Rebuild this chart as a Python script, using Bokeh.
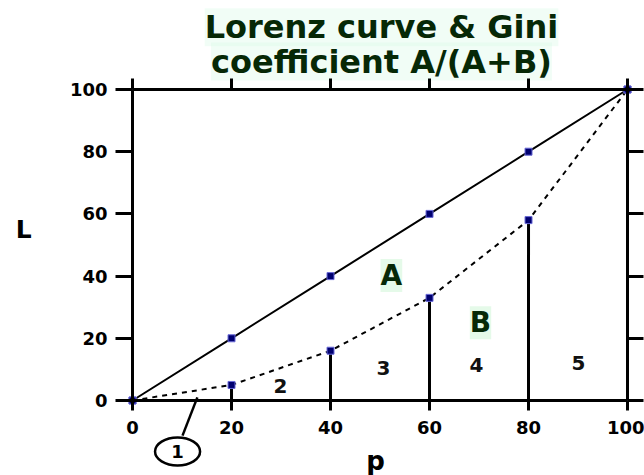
from bokeh.plotting import figure
from bokeh.models import Range1d, LinearAxis, FixedTicker
from bokeh.core.properties import value
from bokeh.embed import file_html
from bokeh.resources import INLINE

# ---- data ----
p_share = [0, 20, 40, 60, 80, 100]
equality = [0, 20, 40, 60, 80, 100]
lorenz = [0, 5, 16, 33, 58, 100]
ticks = [0, 20, 40, 60, 80, 100]
title_lines = ["Lorenz curve & Gini", "coefficient A/(A+B)"]
area_labels = ["A", "B"]
area_x = [52.3, 70.3]
area_y = [40.2, 25.0]
seg_labels = ["2", "3", "4", "5"]
seg_x = [29.9, 50.7, 69.5, 90.1]
seg_y = [4.8, 10.6, 11.3, 12.2]
circ_label = ["1"]
circ_x = [9.1]
circ_y = [-16.4]

FONT = value("DejaVu Sans")

W, H = 644, 475
p = figure(width=W, height=H, output_backend="svg", toolbar_location=None,
           x_range=Range1d(-26.67, 103.43), y_range=Range1d(-24.12, 128.62),
           x_axis_type=None, y_axis_type=None,
           min_border=0, min_border_left=0, min_border_right=0,
           min_border_top=0, min_border_bottom=0)
p.outline_line_color = None
p.background_fill_color = "white"
p.border_fill_color = "white"

def mk_axis(loc, fixed, labels=True, tick_out=12, standoff=8):
    ax = LinearAxis(ticker=FixedTicker(ticks=ticks), fixed_location=fixed,
                    bounds=(0, 100))
    ax.axis_line_width = 3
    ax.axis_line_color = "black"
    ax.major_tick_line_width = 3
    ax.major_tick_out = tick_out
    ax.major_tick_in = 0
    ax.minor_tick_out = 0
    ax.minor_tick_in = 0
    if labels:
        ax.major_label_text_font = "DejaVu Sans"
        ax.major_label_text_font_style = "bold"
        ax.major_label_text_font_size = "18px"
        ax.major_label_text_color = "black"
        ax.major_label_standoff = standoff
    else:
        ax.major_label_text_alpha = 0
        ax.major_label_text_font_size = "1px"
    p.add_layout(ax, loc)
    return ax

mk_axis("left", 0, True, 17, 8)
mk_axis("below", 0, True, 10, 11)
mk_axis("above", 100, False, 11)
mk_axis("right", 100, False, 16)

# equality line
p.line(p_share, equality, line_color="black", line_width=2)
# Lorenz curve
p.line(p_share, lorenz, line_color="black", line_width=2, line_dash="5 5")
# vertical strips
p.segment(x0=p_share[1:5], y0=[0] * 4, x1=p_share[1:5], y1=lorenz[1:5],
          line_color="black", line_width=3)
# markers
p.scatter(p_share, equality, marker="square", size=7,
          fill_color="#000070", line_color="#6a6ad8", line_width=1)
p.scatter(p_share, lorenz, marker="square", size=7,
          fill_color="#000070", line_color="#6a6ad8", line_width=1)

# leader line and ellipse for area 1
p.segment(x0=[10.1], y0=[-11.3], x1=[13.1], y1=[1.0],
          line_color="black", line_width=2.5)
p.ellipse(x=circ_x, y=circ_y, width=9.1, height=9.0,
          fill_color="white", line_color="black", line_width=2.5)
p.text(x=circ_x, y=circ_y, text=circ_label, text_font=FONT,
       text_font_style="bold", text_font_size="18px",
       text_align="center", text_baseline="middle", text_color="black")

# segment numbers
p.text(x=seg_x, y=seg_y, text=seg_labels, text_font=FONT,
       text_font_style="bold", text_font_size="20px",
       text_align="center", text_baseline="middle", text_color="#111111")

# area labels
p.text(x=area_x, y=area_y, text=area_labels, text_font=FONT,
       text_font_style="bold", text_font_size="28px",
       text_align="center", text_baseline="middle", text_color="#062806",
       background_fill_color="#c6f5cf", background_fill_alpha=0.45)

# title
p.text(x=[50.3, 50.3], y=[120.0, 109.0], text=title_lines, text_font=FONT,
       text_font_style="bold", text_font_size="32px",
       text_align="center", text_baseline="alphabetic", text_color="#062806",
       background_fill_color="#d8f8e4", background_fill_alpha=0.35)

# axis titles
p.text(x=[-22.0], y=[55.0], text=["L"], text_font=FONT,
       text_font_style="bold", text_font_size="25px",
       text_align="center", text_baseline="middle", text_color="black")
p.text(x=[49.1], y=[-19.6], text=["p"], text_font=FONT,
       text_font_style="bold", text_font_size="26px",
       text_align="center", text_baseline="middle", text_color="black")

p.xgrid.visible = False
p.ygrid.visible = False

open("out.html", "w").write(file_html(p, INLINE))
